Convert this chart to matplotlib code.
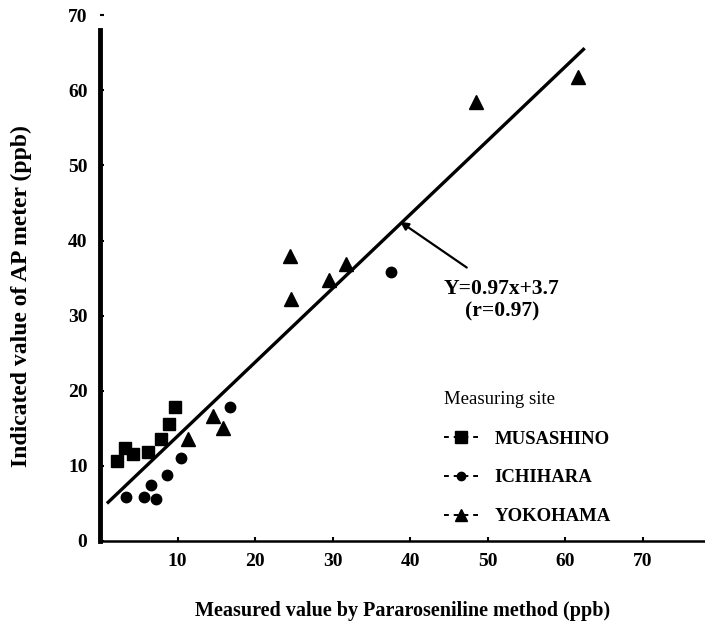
import matplotlib
matplotlib.use("Agg")
import matplotlib.pyplot as plt
from matplotlib.lines import Line2D

# values (ppb)
musashino_x = [2.2, 3.2, 4.2, 6.2, 7.9, 8.9, 9.7]
musashino_y = [10.7, 12.4, 11.6, 11.9, 13.6, 15.6, 17.8]

ichihara_x = [3.4, 5.7, 7.2, 6.6, 8.6, 10.4, 16.8, 37.5]
ichihara_y = [5.9, 5.9, 5.6, 7.5, 8.8, 11.1, 17.8, 35.8]

yokohama_x = [11.3, 14.6, 15.9, 24.5, 24.6, 29.5, 31.7, 48.5, 61.6]
yokohama_y = [13.6, 16.7, 15.1, 38.0, 32.2, 34.7, 36.9, 58.5, 61.7]

fit_x = [0.9, 62.5]
fit_y = [5.0, 65.6]

x_ticks = [10, 20, 30, 40, 50, 60, 70]
y_ticks = [0, 10, 20, 30, 40, 50, 60, 70]

site_names = ["MUSASHINO", "ICHIHARA", "YOKOHAMA"]

plt.rcParams['font.family'] = ['Liberation Serif', 'DejaVu Serif']

fig = plt.figure(figsize=(7.05, 6.26), dpi=100)
ax = fig.add_axes([0.1418, 0.1358, 0.858, 0.852])

ax.plot(fit_x, fit_y, color='black', linewidth=2.4, solid_capstyle='butt')
ax.plot(musashino_x, musashino_y, linestyle='none', marker='s', markersize=9, color='black')
ax.plot(ichihara_x, ichihara_y, linestyle='none', marker='o', markersize=7.5, color='black')
ax.plot(yokohama_x, yokohama_y, linestyle='none', marker='^', markersize=10, color='black')

ax.annotate("", xy=(38.7, 42.5), xytext=(47.3, 36.4),
            arrowprops=dict(arrowstyle='-|>', color='black', lw=1.6, mutation_scale=12,
                            shrinkA=0, shrinkB=0))
ax.text(51.8, 33.6, "Y=0.97x+3.7", ha='center', va='center', fontsize=15.5, fontweight='bold')
ax.text(51.9, 30.6, "(r=0.97)", ha='center', va='center', fontsize=15.5, fontweight='bold')

ax.set_xlim(0, 78)
ax.set_ylim(0, 71)
ax.spines['top'].set_visible(False)
ax.spines['right'].set_visible(False)
ax.spines['left'].set_linewidth(3.5)
ax.spines['left'].set_bounds(0, 68)
ax.spines['bottom'].set_linewidth(1.8)

ax.set_xticks(x_ticks)
ax.set_yticks(y_ticks)
ax.tick_params(direction='in', length=3, width=1.5, labelsize=14, pad=9)
for lab in ax.get_xticklabels() + ax.get_yticklabels():
    lab.set_fontweight('bold')

ax.set_xlabel("Measured value by Pararoseniline method (ppb)", fontsize=14.5,
              fontweight='bold', labelpad=22)
ax.set_ylabel("Indicated value of AP meter (ppb)", fontsize=17, fontweight='bold')
ax.yaxis.set_label_coords(-0.113, 0.46)

handles = [
    Line2D([], [], color='black', linestyle=(0, (2.5, 2.5)), linewidth=1.4, marker='s', markersize=8),
    Line2D([], [], color='black', linestyle=(0, (2.5, 2.5)), linewidth=1.4, marker='o', markersize=6),
    Line2D([], [], color='black', linestyle=(0, (2.5, 2.5)), linewidth=1.4, marker='^', markersize=9),
]
leg = ax.legend(handles, site_names, title="Measuring site", loc='upper left',
                bbox_to_anchor=(0.553, 0.298), frameon=False, borderpad=0,
                handlelength=1.8, handletextpad=0.9, labelspacing=1.15,
                prop={'size': 13.5, 'weight': 'bold'}, title_fontsize=13.5,
                alignment='left')
leg._legend_box.sep = 16

fig.savefig("out.png", dpi=100)
